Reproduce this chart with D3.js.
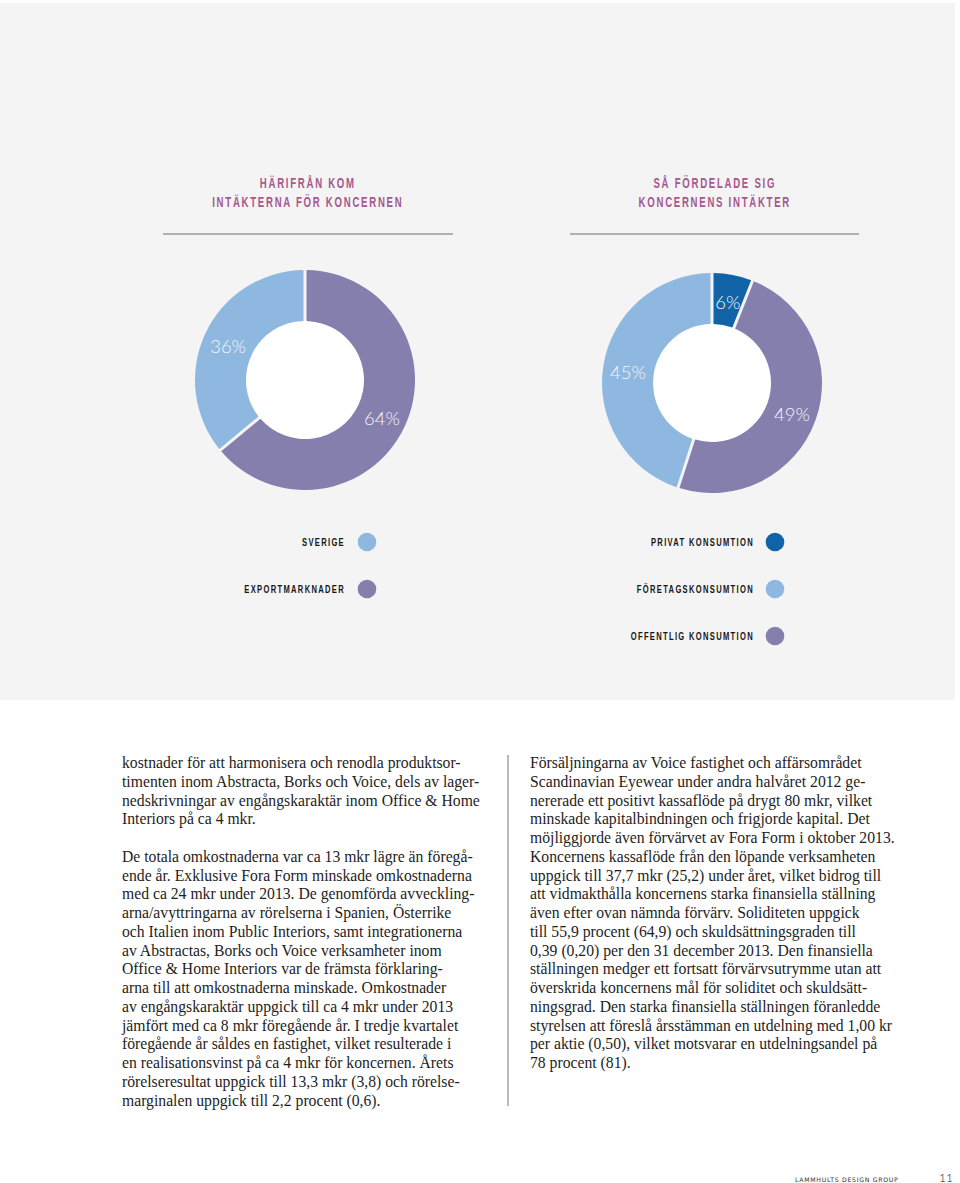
<!DOCTYPE html>
<html><head><meta charset="utf-8">
<script src="https://cdn.jsdelivr.net/npm/d3@7"></script>
<style>
html,body{margin:0;padding:0;background:#fff;}
svg{display:block;}
</style></head>
<body>
<script>
// ---- data ----
const titleLeft = ["HÄRIFRÅN KOM", "INTÄKTERNA FÖR KONCERNEN"];
const titleRight = ["SÅ FÖRDELADE SIG", "KONCERNENS INTÄKTER"];

const revenueCategories = ["Exportmarknader", "Sverige"];
const revenueValues = [64, 36];

const segmentCategories = ["Privat konsumtion", "Offentlig konsumtion", "Företagskonsumtion"];
const segmentValues = [6, 49, 45];

const legendLeft = ["Sverige", "Exportmarknader"];
const legendRight = ["Privat konsumtion", "Företagskonsumtion", "Offentlig konsumtion"];

const colorByCategory = {
  "Sverige": "#8fb8e1",
  "Exportmarknader": "#847fad",
  "Privat konsumtion": "#1163a8",
  "Företagskonsumtion": "#8fb8e1",
  "Offentlig konsumtion": "#847fad"
};

const leftText = [
  "kostnader för att harmonisera och renodla produktsor-",
  "timenten inom Abstracta, Borks och Voice, dels av lager-",
  "nedskrivningar av engångskaraktär inom Office & Home",
  "Interiors på ca 4 mkr.",
  "",
  "De totala omkostnaderna var ca 13 mkr lägre än föregå-",
  "ende år. Exklusive Fora Form minskade omkostnaderna",
  "med ca 24 mkr under 2013. De genomförda avveckling-",
  "arna/avyttringarna av rörelserna i Spanien, Österrike",
  "och Italien inom Public Interiors, samt integrationerna",
  "av Abstractas, Borks och Voice verksamheter inom",
  "Office & Home Interiors var de främsta förklaring-",
  "arna till att omkostnaderna minskade. Omkostnader",
  "av engångskaraktär uppgick till ca 4 mkr under 2013",
  "jämfört med ca 8 mkr föregående år. I tredje kvartalet",
  "föregående år såldes en fastighet, vilket resulterade i",
  "en realisationsvinst på ca 4 mkr för koncernen. Årets",
  "rörelseresultat uppgick till 13,3 mkr (3,8) och rörelse-",
  "marginalen uppgick till 2,2 procent (0,6)."
];
const rightText = [
  "Försäljningarna av Voice fastighet och affärsområdet",
  "Scandinavian Eyewear under andra halvåret 2012 ge-",
  "nererade ett positivt kassaflöde på drygt 80 mkr, vilket",
  "minskade kapitalbindningen och frigjorde kapital. Det",
  "möjliggjorde även förvärvet av Fora Form i oktober 2013.",
  "Koncernens kassaflöde från den löpande verksamheten",
  "uppgick till 37,7 mkr (25,2) under året, vilket bidrog till",
  "att vidmakthålla koncernens starka finansiella ställning",
  "även efter ovan nämnda förvärv. Soliditeten uppgick",
  "till 55,9 procent (64,9) och skuldsättningsgraden till",
  "0,39 (0,20) per den 31 december 2013. Den finansiella",
  "ställningen medger ett fortsatt förvärvsutrymme utan att",
  "överskrida koncernens mål för soliditet och skuldsätt-",
  "ningsgrad. Den starka finansiella ställningen föranledde",
  "styrelsen att föreslå årsstämman en utdelning med 1,00 kr",
  "per aktie (0,50), vilket motsvarar en utdelningsandel på",
  "78 procent (81)."
];
const footerText = "LAMMHULTS DESIGN GROUP";
const pageNumber = "11";

// ---- drawing ----
const W = 960, H = 1183;
const svg = d3.select("body").append("svg").attr("width", W).attr("height", H);

svg.append("rect").attr("x", 0).attr("y", 3).attr("width", 955).attr("height", 697).attr("fill", "#f4f4f4");

const condensed = "'Liberation Sans','Arial',sans-serif";
const squeeze = 0.66;

function title(lines, cx) {
  const g = svg.append("g");
  lines.forEach((d, i) => {
    g.append("g").attr("transform", `translate(${cx},${187.5 + i * 19}) scale(${squeeze},1)`)
      .append("text")
      .attr("x", 1.2).attr("y", 0)
      .attr("text-anchor", "middle")
      .attr("font-family", condensed).attr("font-weight", "bold")
      .attr("font-size", 14.6).attr("letter-spacing", 2.6)
      .attr("fill", "#a6588f")
      .text(d);
  });
}
title(titleLeft, 307);
title(titleRight, 714);

svg.append("line").attr("x1", 163).attr("x2", 453).attr("y1", 234).attr("y2", 234).attr("stroke", "#9a9a9a").attr("stroke-width", 1.5);
svg.append("line").attr("x1", 570).attr("x2", 859).attr("y1", 234).attr("y2", 234).attr("stroke", "#9a9a9a").attr("stroke-width", 1.5);

function donut(cats, vals, cx, cy) {
  const outer = 110, inner = 59;
  const data = cats.map((c, i) => ({ cat: c, value: vals[i] }));
  const pie = d3.pie().sort(null).value(d => d.value);
  const arc = d3.arc().innerRadius(inner).outerRadius(outer).padAngle(3 / outer).padRadius(outer);
  const g = svg.append("g").attr("transform", `translate(${cx},${cy})`);
  g.append("circle").attr("r", inner + 1).attr("fill", "#ffffff");
  const arcs = pie(data);
  g.selectAll("path").data(arcs).join("path")
    .attr("d", arc).attr("fill", d => colorByCategory[d.data.cat]);
  const labelArc = d3.arc().innerRadius(84).outerRadius(86);
  g.selectAll("text").data(arcs).join("text")
    .attr("transform", d => `translate(${labelArc.centroid(d)})`)
    .attr("text-anchor", "middle").attr("dy", "0.5em")
    .attr("font-family", "Lato, 'Open Sans', sans-serif").attr("font-weight", 300)
    .attr("font-size", 18.5).attr("fill", "#f4f4f8")
    .text(d => d.data.value + "%");
}
donut(revenueCategories, revenueValues, 305, 380);
donut(segmentCategories, segmentValues, 712, 383);

function legend(items, textRight, circleX) {
  const g = svg.append("g");
  items.forEach((d, i) => {
    const y = 542 + i * 47;
    g.append("g").attr("transform", `translate(${textRight},${y + 4}) scale(${squeeze},1)`)
      .append("text").attr("x", 0).attr("y", 0)
      .attr("text-anchor", "end")
      .attr("font-family", condensed).attr("font-weight", "bold")
      .attr("font-size", 11.5).attr("letter-spacing", 2).attr("fill", "#161616")
      .text(d.toUpperCase());
    g.append("circle").attr("cx", circleX).attr("cy", y).attr("r", 9.3)
      .attr("fill", colorByCategory[d]);
  });
}
legend(legendLeft, 345, 367);
legend(legendRight, 754, 775);

function column(lines, x) {
  svg.append("g").selectAll("text").data(lines).join("text")
    .attr("x", x).attr("y", (d, i) => 768 + i * 18.75)
    .attr("font-family", "'Liberation Serif','DejaVu Serif',serif")
    .attr("font-size", 15.7).attr("fill", "#1e1e1e")
    .text(d => d);
}
column(leftText, 122);
column(rightText, 530);

svg.append("line").attr("x1", 508).attr("x2", 508).attr("y1", 755).attr("y2", 1106).attr("stroke", "#8a8a8a").attr("stroke-width", 1.2);

svg.append("text").attr("x", 795).attr("y", 1181.5)
  .attr("font-family", "'DejaVu Sans','Liberation Sans',sans-serif").attr("font-size", 6.2)
  .attr("letter-spacing", 0.7).attr("fill", "#333").text(footerText);
svg.append("text").attr("x", 953).attr("y", 1181.5).attr("text-anchor", "end")
  .attr("font-family", "Lato,'Open Sans',sans-serif").attr("font-weight", 300).attr("font-size", 12)
  .attr("fill", "#222").text(pageNumber);
</script>
</body></html>
